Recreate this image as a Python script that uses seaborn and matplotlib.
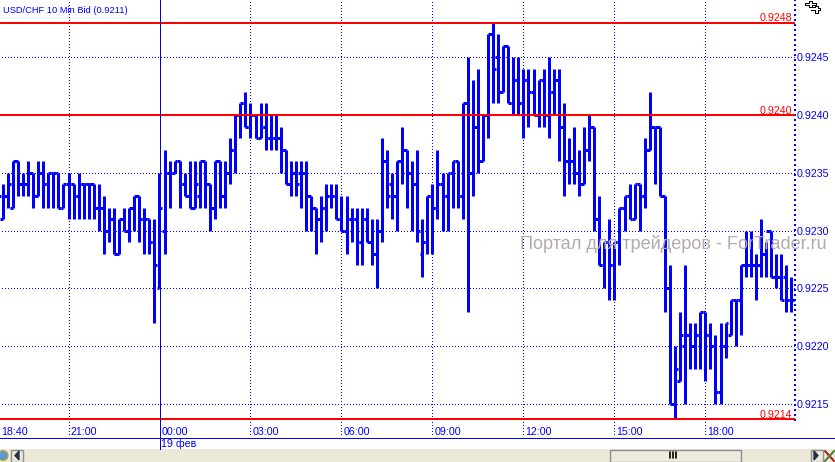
import matplotlib
matplotlib.use("Agg")
import matplotlib.pyplot as plt
from matplotlib.patches import Rectangle, Circle
import pandas as pd
import seaborn as sns

# prices as pips above 0.9200
high = [34,34,35,36,36,35,36,35,36,36,
        35,35,35,34,35,34,35,34,34,34,
        34,33,32,32,31,32,32,33,33,32,
        31,31,35,37,36,36,36,35,36,36,
        36,36,34,36,36,36,38,40,41,42,
        41,40,41,41,40,40,39,37,36,36,
        36,36,33,32,33,34,34,34,33,33,
        32,32,32,32,31,31,38,37,35,36,
        39,37,36,37,31,33,34,37,35,35,
        36,36,41,45,43,44,40,47,48,47,
        46,46,45,45,44,44,44,43,44,45,
        44,44,41,38,39,37,39,40,39,33,
        29,31,29,32,33,34,34,34,38,42,
        39,39,33,27,20,23,27,22,22,23,
        23,22,21,22,22,24,24,27,30,30,
        28,31,29,30,28,28,27,26]
low = [31,31,32,32,33,33,33,32,33,32,
       32,32,32,32,31,31,31,31,31,31,
       30,28,29,28,28,30,29,30,29,28,
       28,22,25,28,32,35,32,33,32,32,
       32,32,30,31,32,32,34,35,38,39,
       38,38,38,37,37,37,35,34,33,33,
       32,30,30,28,29,30,32,31,30,28,
       29,27,27,29,27,25,29,32,31,30,
       34,32,30,29,26,28,28,31,30,30,
       32,32,31,23,33,35,36,38,41,41,
       42,41,40,40,38,39,40,39,39,38,
       40,36,33,34,34,33,34,36,30,27,
       25,24,24,27,30,31,31,30,32,37,
       34,33,23,15,13.7,17,15,18,18,18,
       17,18,15,15,19,21,20,21,26,26,
       24,26,26,26,25,24,23,23]
opens = [33,31,33,32,36,34,34,35,33,35,
         34,35,35,32,34,34,33,34,34,34,
         32,32,30,31,28,31,30,32,33,31,
         31,29,25,30,35,35,36,34,33,32,
         33,36,34,32,36,33,35,37,40,41,
         39,40,38,39,38,38,38,37,34,35,
         35,35,33,32,31,32,33,33,31,30,
         31,31,29,31,29,28,30,36,34,33,
         36,37,35,34,28,29,33,32,34,33,
         35,36,33,41,35,39,36,40,47,45,
         42,46,41,43,41,43,42,40,43,40,
         42,43,39,36,36,35,34,37,39,31,
         27,29,27,29,32,33,31,34,33,37,
         39,39,33,25,15,17,20,21,20,21,
         23,21,20,16,20,21,24,24,27,27,
         27,27,28,30,26,26,26,24]
closes = [33,33,34,36,34,34,35,33,35,34,
          35,35,32,34,34,33,34,34,34,32,
          32,30,31,28,31,30,32,33,31,31,
          29,27,32,35,35,36,34,33,32,34,
          36,34,32,36,33,35,37,40,41,39,
          40,38,39,38,38,38,37,34,35,34,
          35,33,32,31,32,33,33,31,30,31,
          31,29,31,29,28,30,36,33,33,36,
          37,35,34,30,29,33,32,34,33,35,
          36,33,41,35,39,36,40,47,44,42,
          46,41,43,41,43,42,40,43,40,42,
          43,39,36,36,35,34,37,39,31,27,
          29,27,29,32,33,31,34,33,37,39,
          39,33,25,15,18,21,21,20,21,23,
          21,20,16,20,22,24,24,27,27,27,
          27,28,30,26,26,24,24,24]

time_labels = ["18:40", "21:00", "00:00", "03:00", "06:00", "09:00", "12:00", "15:00", "18:00"]
time_bars = [0, 14, 32, 50, 68, 86, 104, 122, 140]
grid_prices = [0.9215, 0.9220, 0.9225, 0.9230, 0.9235, 0.9240, 0.9245]
level_prices = [0.9248, 0.9240, 0.92137]
level_labels = ["0.9248", "0.9240", "0.9214"]

sns.set_style("white")
plt.rcParams["font.family"] = ["Liberation Sans", "DejaVu Sans"]

BLUE = "#0000ff"
W, H = 835, 462

# one row per point, one id per stroke of a bar
rows = []
seg = 0
for i in range(len(high)):
    strokes = [[(i, high[i]), (i, low[i])],
               [(i - 0.55, opens[i]), (i, opens[i])],
               [(i, closes[i]), (i + 0.55, closes[i])]]
    for s in strokes:
        for x, y in s:
            rows.append({"bar": x, "price": 0.92 + y / 10000, "seg": seg})
        seg += 1
df = pd.DataFrame(rows)

fig = plt.figure(figsize=(W / 100, H / 100), dpi=100)

# plot area is 795 x 437 px
ax = fig.add_axes([0, (H - 437) / H, 795 / W, 437 / H])
ax.set_xlim(0.447, 157.73)
ax.set_ylim(0.921215, 0.924995)
for sp in ax.spines.values():
    sp.set_visible(False)
ax.set_xticks([])
ax.set_yticks(grid_prices)
ax.set_yticklabels([f"{p:.4f}" for p in grid_prices], color=BLUE, fontsize=7.7)
ax.yaxis.tick_right()
ax.tick_params(axis="y", length=0, pad=1.2)
ax.patch.set_visible(False)

dots = (0, (0.7, 2.3))
for p in grid_prices:
    ax.axhline(p, xmin=0.003, color=BLUE, lw=0.72, ls=dots, antialiased=False, zorder=1)
for b, t in zip(time_bars, time_labels):
    if t not in ("18:40", "00:00"):
        ax.axvline(b, color=BLUE, lw=0.72, ls=dots, antialiased=False, zorder=1)
    ax.text(b + 0.35 if b else 0.65, 0.011, t, color=BLUE, fontsize=7.7, va="center", ha="left",
            transform=ax.get_xaxis_transform())
ax.axvline(157.73, ymin=0.037, color=BLUE, lw=1.1, ls=dots, antialiased=False, clip_on=False, zorder=1)

ax.text(0.004, 0.986, "USD/CHF 10 Min Bid (0.9211)", color=BLUE, fontsize=6.7, va="top", ha="left",
        transform=ax.transAxes)

# watermark sits behind the bars
fig.text(520 / W, 1 - 243.5 / H, "Портал для трейдеров - ForTrader.ru", color="#b3abab", fontsize=13.1,
         va="center", ha="left", zorder=0)

sns.lineplot(data=df, x="bar", y="price", units="seg", estimator=None, sort=False, color=BLUE,
             lw=2.16, solid_capstyle="butt", legend=False, ax=ax, zorder=3)
ax.set_xlabel("")
ax.set_ylabel("")
ax.set_xticks([])

for p, t in zip(level_prices, level_labels):
    ax.axhline(p, color="#ff0000", lw=1.2, antialiased=False, zorder=4)
    ax.annotate(t, (157.1, p), xytext=(0, -0.5), textcoords="offset points", color="#ff0000",
                fontsize=7.7, ha="right", va="bottom")

# window chrome in pixel coordinates
chrome = fig.add_axes([0, 0, 1, 1], zorder=5)
chrome.set_xlim(0, W)
chrome.set_ylim(H, 0)
chrome.axis("off")
chrome.patch.set_visible(False)
chrome.plot([0, W], [437.5, 437.5], color=BLUE, lw=0.72, antialiased=False)
chrome.plot([159.5, 159.5], [0, 449], color="#0000d8", lw=0.72, antialiased=False)
chrome.text(161, 444, "19 фев", color=BLUE, fontsize=7.7, va="center", ha="left")
chrome.add_patch(Rectangle((0, 449), W, 13, fc="#ece9d8", ec="none"))
chrome.add_patch(Rectangle((609.5, 449.5), 131, 12, fc="#eeebdd", ec="#8a9094", lw=1))
for x in (670, 673, 676):
    chrome.plot([x, x], [452, 458], color="black", lw=1.2)
chrome.add_patch(Rectangle((10.5, 449.5), 12, 12, fc="#eeebdd", ec="#8a9094", lw=1))
chrome.add_patch(Rectangle((810.5, 449.5), 12, 12, fc="#eeebdd", ec="#8a9094", lw=1))
chrome.fill([19, 19, 15], [451, 460, 455.5], color="#223344")
chrome.fill([814, 814, 818], [451, 460, 455.5], color="#223344")
chrome.add_patch(Circle((3, 455.5), 5, fc="#5a9ad0", ec="#c8a030", lw=0.8))
chrome.plot([825, 834], [451, 461], color="#b02020", lw=1.5)
chrome.plot([825, 834], [461, 451], color="#508030", lw=1.5)

# small tool glyph, top right
chrome.plot([805, 809, 809, 812, 812, 816, 816, 812, 812, 809, 809, 805, 805],
            [3, 3, 1, 1, 3, 3, 5, 5, 7, 7, 5, 5, 3], color="black", lw=0.72, antialiased=False)
chrome.plot([811, 815, 815, 818, 818, 820, 820, 818, 818, 815, 815, 811],
            [7, 7, 6, 6, 8, 8, 10, 10, 13, 13, 10, 10], color="black", lw=0.72, antialiased=False)

fig.savefig("out.png", dpi=100)
